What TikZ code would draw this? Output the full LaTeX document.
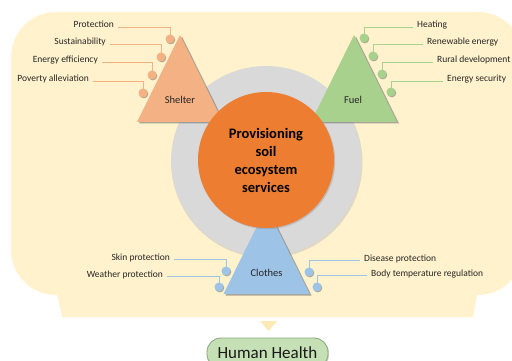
\documentclass[tikz,border=0pt]{standalone}
\usepackage{fontspec}
\setmainfont{Carlito}
\usetikzlibrary{shadows}

\definecolor{creamC}{HTML}{FFF2CC}
\definecolor{arrowC}{HTML}{FFE9B5}
\definecolor{shelterC}{HTML}{F4B183}
\definecolor{fuelC}{HTML}{A9D18E}
\definecolor{clothesC}{HTML}{9DC3E6}
\definecolor{coreC}{HTML}{ED7D31}
\definecolor{ringC}{HTML}{D9D9D9}
\definecolor{pillC}{HTML}{C5E0B4}
\definecolor{pillLine}{HTML}{8FA982}
\definecolor{txtC}{HTML}{262626}

\tikzset{
  lbl/.style={font=\fontsize{9.5}{11}\selectfont, text=txtC,
    text height=3pt, text depth=1pt, inner xsep=4pt, inner ysep=0pt},
  bul/.style={circle, minimum size=9pt, inner sep=0pt,
    drop shadow={shadow xshift=0.8pt, shadow yshift=-0.9pt, opacity=0.45, fill=black!70}},
  lead/.style={line width=0.9pt},
  trishadow/.style={fill=black!55, opacity=0.6},
  trilbl/.style={font=\fontsize{10.5}{12}\selectfont, text=txtC},
}

\begin{document}
\begin{tikzpicture}[x=1pt,y=-1pt]
\useasboundingbox (0,0) rectangle (512,361);
\clip (0,0) rectangle (512,361);

% callout background
\fill[creamC, rounded corners=45pt] (11,12) rectangle (523,295);
\fill[creamC] (56,290) -- (478,290) -- (473,317) -- (62,317) -- cycle;
\fill[arrowC] (260,321) -- (277,321) -- (268.5,331) -- cycle;

% outcome box
\node[draw=pillLine, line width=0.9pt, fill=pillC, rounded corners=14pt,
  minimum width=121pt, minimum height=30pt, inner sep=0pt,
  drop shadow={shadow xshift=1pt, shadow yshift=-1pt, opacity=0.35}]
  (healthbox) at (267.5,353) {};
\node[font=\fontsize{17}{19}\selectfont, text=black!90, inner sep=0pt,
  text depth=0pt, anchor=base] (health) at (267.5,358) {Human Health};

% grey disc behind the core
\fill[black!25, opacity=0.5] (267,162.5) circle (95.5);
\fill[ringC] (266,161) circle (95);

% triangles with shadows
\fill[trishadow] (182,36.5) -- (139,123.5) -- (225,123.5) -- cycle;
\fill[shelterC] (180,35) -- (137,122) -- (223,122) -- cycle;
\fill[trishadow] (356,36.5) -- (313,123.5) -- (399,123.5) -- cycle;
\fill[fuelC] (354,35) -- (311,122) -- (397,122) -- cycle;
\fill[trishadow] (268.5,208.5) -- (225.5,295.5) -- (311.5,295.5) -- cycle;
\fill[clothesC] (266.5,207) -- (223.5,294) -- (309.5,294) -- cycle;

\node[trilbl] (shelter) at (180,100) {Shelter};
\node[trilbl] (fuel) at (353,100) {Fuel};
\node[trilbl] (clothes) at (266.5,273) {Clothes};

% central service
\node[circle, fill=coreC, minimum size=136pt, inner sep=0pt,
  drop shadow={shadow xshift=1.2pt, shadow yshift=-1.2pt, opacity=0.3},
  align=center, font=\fontsize{14.5}{18}\bfseries, text=black] (core) at (266,160)
  {Provisioning\\soil\\ecosystem\\services};

% shelter benefits
\node[lbl, anchor=east] (p1) at (118,27) {Protection};
\node[lbl, anchor=east] (p2) at (110,44) {Sustainability};
\node[lbl, anchor=east] (p3) at (102,62) {Energy efficiency};
\node[lbl, anchor=east] (p4) at (93,81) {Poverty alleviation};
\coordinate (s1) at (170,39);
\coordinate (s2) at (161,57);
\coordinate (s3) at (152,75);
\coordinate (s4) at (143,93);
\foreach \i in {1,...,4}{
  \draw[lead, shelterC] (s\i) |- (p\i.east);
  \node[bul, fill=shelterC] (sb\i) at (s\i) {};
}

% fuel benefits
\node[lbl, anchor=west] (q1) at (413,27) {Heating};
\node[lbl, anchor=west] (q2) at (423,44) {Renewable energy};
\node[lbl, anchor=west] (q3) at (433,62) {Rural development};
\node[lbl, anchor=west] (q4) at (443,81) {Energy security};
\coordinate (f1) at (364,38);
\coordinate (f2) at (373,56);
\coordinate (f3) at (382,74);
\coordinate (f4) at (391,92);
\foreach \i in {1,...,4}{
  \draw[lead, fuelC] (f\i) |- (q\i.west);
  \node[bul, fill=fuelC] (fb\i) at (f\i) {};
}

% clothes benefits
\node[lbl, anchor=east] (r1) at (174,259) {Skin protection};
\node[lbl, anchor=east] (r2) at (167,276) {Weather protection};
\node[lbl, anchor=west] (r3) at (360,260) {Disease protection};
\node[lbl, anchor=west] (r4) at (367,275) {Body temperature regulation};
\coordinate (c1) at (226,271);
\coordinate (c2) at (219,287);
\coordinate (c3) at (309,272);
\coordinate (c4) at (317,287);
\draw[lead, clothesC] (c1) |- (r1.east);
\draw[lead, clothesC] (c2) |- (r2.east);
\draw[lead, clothesC] (c3) |- (r3.west);
\draw[lead, clothesC] (c4) |- (r4.west);
\foreach \i in {1,...,4}{
  \node[bul, fill=clothesC] (cb\i) at (c\i) {};
}
\end{tikzpicture}
\end{document}
